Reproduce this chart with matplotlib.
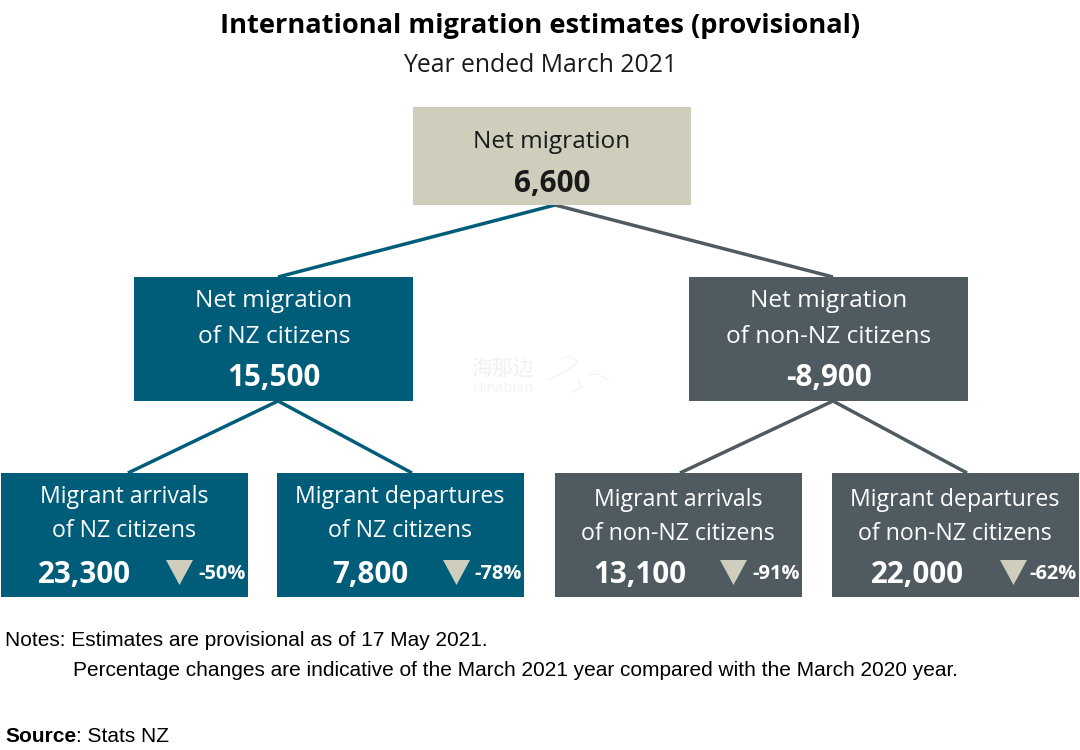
import matplotlib
matplotlib.use("Agg")
import matplotlib.pyplot as plt
from matplotlib.patches import Rectangle, Polygon

TEAL = "#005D7A"
SLATE = "#4F5B60"
TAN = "#CFCDBC"
W, H = 1080, 750

title = "International migration estimates (provisional)"
subtitle = "Year ended March 2021"
net_label = "Net migration"
net_value = "6,600"
mid_labels = ["Net migration\nof NZ citizens", "Net migration\nof non-NZ citizens"]
mid_values = ["15,500", "-8,900"]
low_labels = ["Migrant arrivals\nof NZ citizens", "Migrant departures\nof NZ citizens",
              "Migrant arrivals\nof non-NZ citizens", "Migrant departures\nof non-NZ citizens"]
low_values = ["23,300", "7,800", "13,100", "22,000"]
low_changes = ["-50%", "-78%", "-91%", "-62%"]

plt.rcParams["font.family"] = ["Open Sans", "DejaVu Sans"]

fig = plt.figure(figsize=(W / 100, H / 100), dpi=100)
ax = fig.add_axes([0, 0, 1, 1])
ax.set_xlim(0, W)
ax.set_ylim(H, 0)
ax.axis("off")


def box(x, y, w, h, color):
    ax.add_patch(Rectangle((x, y), w, h, facecolor=color, edgecolor="none", zorder=2))


def link(x0, y0, x1, y1, color):
    ax.plot([x0, x1], [y0, y1], color=color, lw=2.5, solid_capstyle="butt", zorder=1)


ax.text(540, 26, title, ha="center", va="center", fontsize=19.6, fontweight="bold", color="black")
ax.text(540, 65, subtitle, ha="center", va="center", fontsize=17.8, color="#1a1a1a")

# top box
box(413, 107, 278, 98, TAN)
ax.text(552, 142, net_label, ha="center", va="center", fontsize=17.6, color="#1a1a1a")
ax.text(552, 184, net_value, ha="center", va="center", fontsize=21.3, fontweight="bold", color="#1a1a1a")
link(555, 205, 278, 277, TEAL)
link(555, 205, 833, 277, SLATE)

# middle row
mid_x = [134, 689]
mid_colors = [TEAL, SLATE]
for x, lab, val, c in zip(mid_x, mid_labels, mid_values, mid_colors):
    box(x, 277, 279, 124, c)
    a, b = lab.split("\n")
    ax.text(x + 140, 301, a, ha="center", va="center", fontsize=17.6, color="white")
    ax.text(x + 140, 337, b, ha="center", va="center", fontsize=17.6, color="white")
    ax.text(x + 140, 378, val, ha="center", va="center", fontsize=21.3, fontweight="bold", color="white")

# bottom row
low_x = [1, 277, 555, 832]
low_colors = [TEAL, TEAL, SLATE, SLATE]
text_dy = [0, 0, 3, 3]
value_dx = [83, 93, 85, 85]
tri_dx = [165, 166, 165, 168]
link(278, 401, 128, 473, TEAL)
link(278, 401, 412, 473, TEAL)
link(833, 401, 680, 473, SLATE)
link(833, 401, 967, 473, SLATE)
for i, x in enumerate(low_x):
    c = low_colors[i]
    dy = text_dy[i]
    box(x, 473, 247, 124, c)
    a, b = low_labels[i].split("\n")
    ax.text(x + 123, 497 + dy, a, ha="center", va="center", fontsize=16.7, color="white")
    ax.text(x + 123, 531 + dy, b, ha="center", va="center", fontsize=16.7, color="white")
    ax.text(x + value_dx[i], 575, low_values[i], ha="center", va="center", fontsize=21.3,
            fontweight="bold", color="white")
    t = x + tri_dx[i]
    ax.add_patch(Polygon([(t, 560), (t + 27, 560), (t + 13.5, 585)], facecolor=TAN, edgecolor="none", zorder=3))
    ax.text(x + 221, 574, low_changes[i], ha="center", va="center", fontsize=14.4, fontweight="bold", color="white")

# notes
ax.text(5, 640, "Notes: Estimates are provisional as of 17 May 2021.", va="center", fontsize=15,
        family="Liberation Sans", color="black")
ax.text(73, 670, "Percentage changes are indicative of the March 2021 year compared with the March 2020 year.",
        va="center", fontsize=15, family="Liberation Sans", color="black")
ax.text(5, 737, "Source", va="center", fontsize=15, family="Liberation Sans", fontweight="bold", color="black")
ax.text(76, 737, ": Stats NZ", va="center", fontsize=15, family="Liberation Sans", color="black")

# faint watermark
ax.text(503, 369, "海那边", ha="center", va="center", fontsize=15, color="#f1f1f1",
        family=["Noto Sans CJK SC", "DejaVu Sans"])
ax.text(503, 388, "Hinabian", ha="center", va="center", fontsize=10.5, color="#f3f3f3")
ax.plot([548, 565, 578, 570, 563], [380, 372, 362, 356, 358], color="#f1f1f1", lw=0.8)
ax.plot([590, 598, 608], [375, 374, 380], color="#f1f1f1", lw=0.8)
ax.plot([578, 582, 572], [380, 388, 392], color="#f1f1f1", lw=0.8)

fig.savefig("out.png", dpi=100)
